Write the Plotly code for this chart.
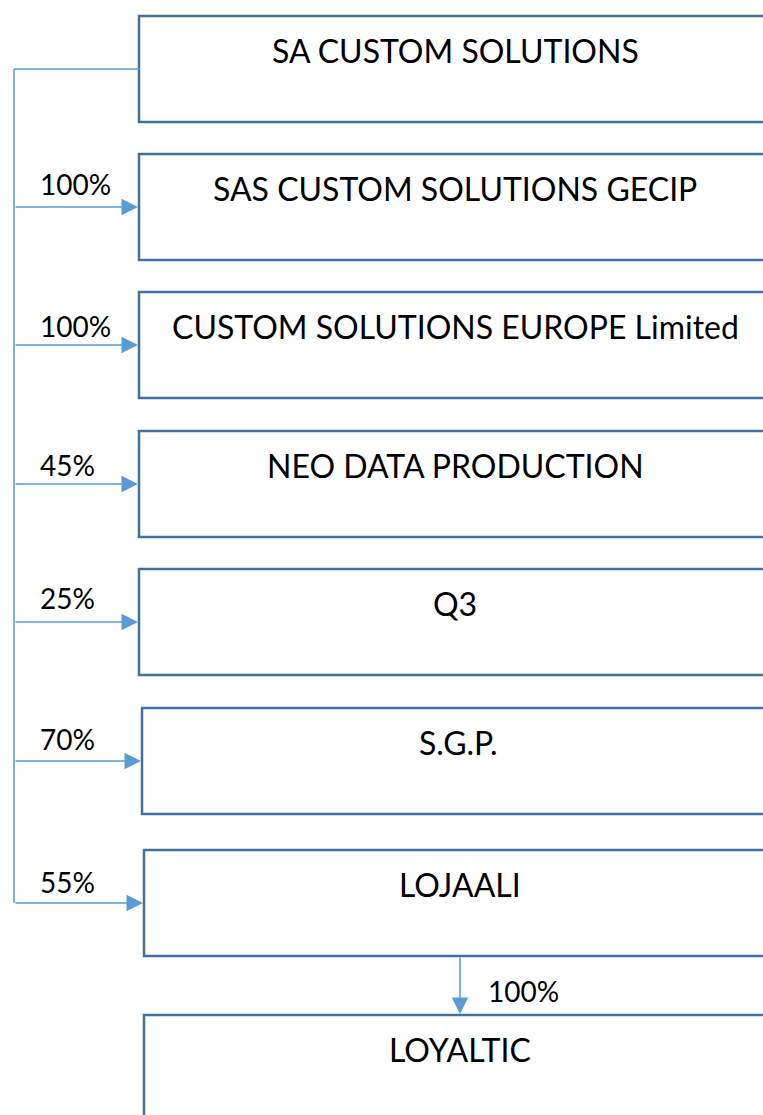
import plotly.graph_objects as go

# ---- data ----
parent = "SA CUSTOM SOLUTIONS"
subsidiaries = ["SAS CUSTOM SOLUTIONS GECIP", "CUSTOM SOLUTIONS EUROPE Limited",
                "NEO DATA PRODUCTION", "Q3", "S.G.P.", "LOJAALI"]
shares = ["100%", "100%", "45%", "25%", "70%", "55%"]
grandchild = "LOYALTIC"
grandchild_share = "100%"

# ---- layout (pixel geometry) ----
W, H = 763, 1115
tops = [16, 154, 292, 431, 569, 708, 850, 1015]
lefts = [139, 139, 139, 139, 139, 142, 144, 144]
label_dy = [23, 19, 19, 24, 22, 21]
BOX_W, BOX_H = 632, 106
TRUNK_X = 14
BOX_COLOR = "#41719C"
LINE_COLOR = "#5B9BD5"
FONT = "Lato, Calibri, 'Open Sans', sans-serif"

names = [parent] + subsidiaries + [grandchild]

fig = go.Figure()
shapes = []
annotations = []

for i, name in enumerate(names):
    x0, y0 = lefts[i], tops[i]
    shapes.append(dict(type="rect", xref="x", yref="y", x0=x0, y0=y0,
                       x1=x0 + BOX_W, y1=y0 + BOX_H,
                       line=dict(color=BOX_COLOR, width=2.5), fillcolor="white", layer="below"))
    annotations.append(dict(x=x0 + BOX_W / 2, y=y0 + 34, xref="x", yref="y", text=name,
                            showarrow=False, xanchor="center", yanchor="middle",
                            font=dict(family=FONT, size=32, color="black")))

mid = [t + 53 for t in tops]
# parent connector
shapes.append(dict(type="line", xref="x", yref="y", x0=TRUNK_X, y0=mid[0], x1=lefts[0], y1=mid[0],
                   line=dict(color=LINE_COLOR, width=1.5)))
shapes.append(dict(type="line", xref="x", yref="y", x0=TRUNK_X, y0=mid[0], x1=TRUNK_X, y1=mid[6],
                   line=dict(color=LINE_COLOR, width=1.5)))

for j, s in enumerate(shares):
    i = j + 1
    annotations.append(dict(x=lefts[i] - 1, y=mid[i], ax=TRUNK_X, ay=mid[i], xref="x", yref="y",
                            axref="x", ayref="y", text="", showarrow=True, arrowhead=2,
                            arrowsize=2.2, arrowwidth=1.5, arrowcolor=LINE_COLOR))
    annotations.append(dict(x=38, y=mid[i] - label_dy[j], xref="x", yref="y", text=s,
                            showarrow=False, xanchor="left", yanchor="middle",
                            font=dict(family=FONT, size=28, color="black")))

# LOJAALI -> LOYALTIC
vx = 460
annotations.append(dict(x=vx, y=tops[7] - 1, ax=vx, ay=tops[6] + BOX_H, xref="x", yref="y",
                        axref="x", ayref="y", text="", showarrow=True, arrowhead=2,
                        arrowsize=2.2, arrowwidth=1.5, arrowcolor=LINE_COLOR))
annotations.append(dict(x=486, y=991, xref="x", yref="y", text=grandchild_share,
                        showarrow=False, xanchor="left", yanchor="middle",
                        font=dict(family=FONT, size=28, color="black")))

fig.update_layout(
    width=W, height=H, margin=dict(l=0, r=0, t=0, b=0),
    paper_bgcolor="white", plot_bgcolor="white", showlegend=False,
    xaxis=dict(range=[0, W], visible=False, fixedrange=True),
    yaxis=dict(range=[H, 0], visible=False, fixedrange=True),
    shapes=shapes, annotations=annotations,
)
fig.write_html("out.html", config={"displayModeBar": False},
               post_script="document.body.style.margin='0';document.body.style.overflow='hidden';")
